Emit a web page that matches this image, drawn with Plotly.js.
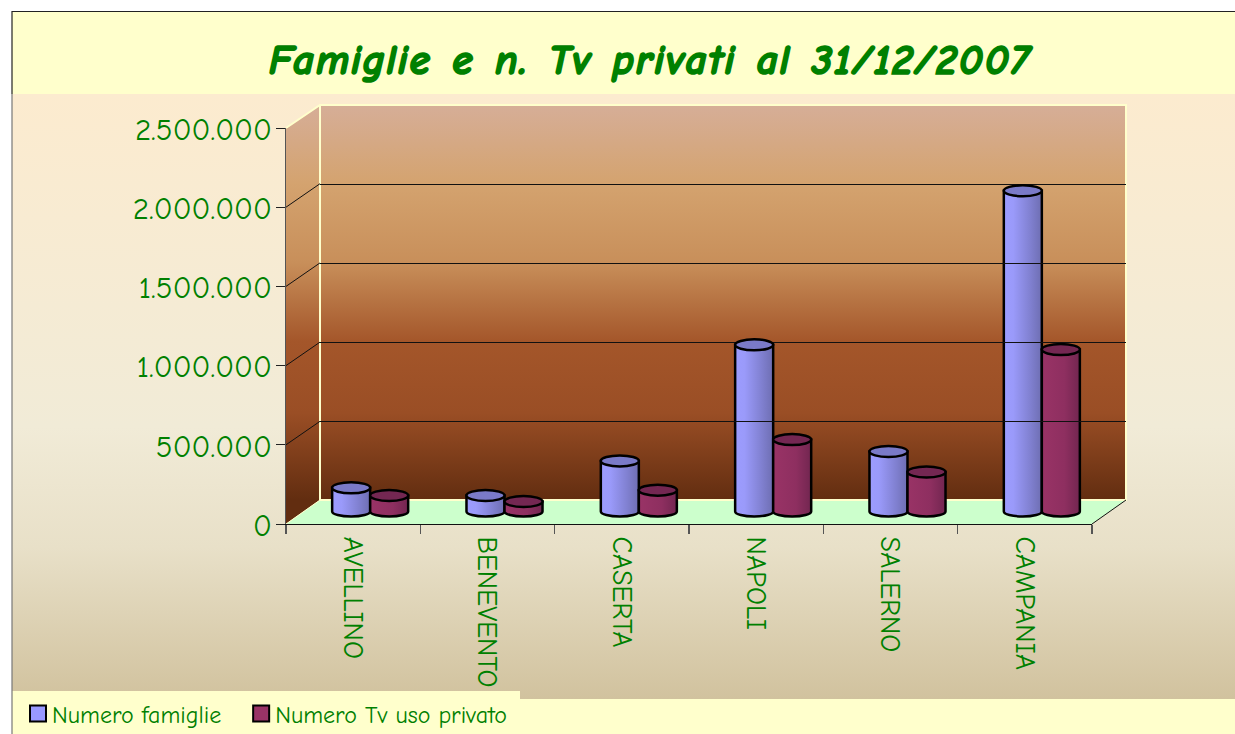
<!DOCTYPE html>
<html>
<head>
<meta charset="utf-8">
<script src="https://cdn.plot.ly/plotly-3.0.1.min.js"></script>
<style>
html,body{margin:0;padding:0;background:#fff;width:1235px;height:734px;overflow:hidden}
#bg{position:absolute;left:0;top:0}
#chart{position:absolute;left:0;top:0;width:1235px;height:734px}
</style>
</head>
<body>
<svg id="bg" width="1235" height="734" xmlns="http://www.w3.org/2000/svg">
  <defs>
    <linearGradient id="page" gradientUnits="userSpaceOnUse" x1="0" y1="94" x2="0" y2="699">
      <stop offset="0" stop-color="#fcebcf"/>
      <stop offset="0.55" stop-color="#f1ebd7"/>
      <stop offset="0.75" stop-color="#e8e0c8"/>
      <stop offset="1" stop-color="#d1c29e"/>
    </linearGradient>
    <linearGradient id="wall" gradientUnits="userSpaceOnUse" x1="0" y1="104" x2="0" y2="500">
      <stop offset="0" stop-color="#d6ae98"/>
      <stop offset="0.2" stop-color="#d4a36f"/>
      <stop offset="0.4" stop-color="#c88f5a"/>
      <stop offset="0.6" stop-color="#a4562a"/>
      <stop offset="0.78" stop-color="#9a4e25"/>
      <stop offset="1" stop-color="#622d10"/>
    </linearGradient>
  </defs>
  <rect x="12" y="94" width="1223" height="605" fill="url(#page)"/>
  <rect x="12" y="12" width="1223" height="82" fill="#ffffcc"/>
  <rect x="12" y="699" width="1223" height="35" fill="#ffffcc"/>
  <rect x="12" y="691" width="508" height="43" fill="#ffffcc"/>
  <path d="M12 11.5H1235" stroke="#222" stroke-width="1"/>
  <path d="M12 11V94" stroke="#222" stroke-width="1.2"/>
  <path d="M12 94V734" stroke="#777" stroke-width="1.2"/>
  <polygon points="286,128 320,105 320,500 286,524" fill="url(#wall)"/>
  <rect x="320" y="105" width="806" height="395" fill="url(#wall)"/>
  <polygon points="286,524 320,500 1126,500 1092,524" fill="#ccffcc"/>
  <path d="M286 128L320 105H1126V500H320V105" fill="none" stroke="#ffffcc" stroke-width="2"/>
</svg>
<div id="chart"></div>
<script>
var categories = ["AVELLINO", "BENEVENTO", "CASERTA", "NAPOLI", "SALERNO", "CAMPANIA"];
var famiglie = [150000, 101000, 320000, 1055000, 380000, 2030000];
var tvPrivati = [101000, 63000, 135000, 455000, 250000, 1025000];
var seriesNames = ["Numero famiglie", "Numero Tv uso privato"];
var tickValues = [0, 500000, 1000000, 1500000, 2000000, 2500000];

var W = 1235, H = 734;
function fx(a, b) { return [a / W, b / W]; }
function fy(top, bottom) { return [1 - bottom / H, 1 - top / H]; }
var GREEN = "#008000";
var FONT = '"Comic Sans MS","Comic Neue",Lato,"Noto Sans",sans-serif';
var VMAX = 2500000;
var BARW = 0.283;
var RY = 5.5 * VMAX / 396;

var traces = [
  {x: categories, y: famiglie, type: "scatter", mode: "none", xaxis: "x", yaxis: "y", showlegend: false, hoverinfo: "skip"},
  {x: categories, y: famiglie, type: "scatter", mode: "none", xaxis: "x3", yaxis: "y3", showlegend: false, hoverinfo: "skip"},
  {name: seriesNames[0], x: categories, y: famiglie, type: "bar", xaxis: "x2", yaxis: "y2", cliponaxis: false,
   marker: {color: "#9999ff", line: {color: "#000", width: 2.5}}},
  {name: seriesNames[1], x: categories, y: tvPrivati, type: "bar", xaxis: "x2", yaxis: "y2", cliponaxis: false,
   marker: {color: "#993366", line: {color: "#000", width: 2.5}}}
];

var shapes = [];
tickValues.forEach(function (v) {
  if (v === 0 || v === VMAX) return;
  var py = 524 - v * 396 / VMAX;
  shapes.push({type: "line", xref: "paper", yref: "paper", x0: 286 / W, x1: 320 / W,
    y0: 1 - py / H, y1: 1 - (py - 23.5) / H, line: {color: "#111", width: 1}, layer: "below"});
});
shapes.push({type: "line", xref: "paper", yref: "paper", x0: 1092 / W, x1: 1126 / W,
  y0: 1 - 524 / H, y1: 1 - 500 / H, line: {color: "#111", width: 1}, layer: "below"});
shapes.push({type: "line", xref: "paper", yref: "paper", x0: 286 / W, x1: 320 / W,
  y0: 1 - 524 / H, y1: 1 - 500 / H, line: {color: "#ffffcc", width: 1}, layer: "below"});
categories.forEach(function (c, i) {
  shapes.push({type: "circle", xref: "x2", yref: "y2", x0: i - BARW, x1: i,
    y0: famiglie[i] - RY, y1: famiglie[i] + RY, fillcolor: "#7a7ac8", line: {color: "#000", width: 2.5}});
  shapes.push({type: "circle", xref: "x2", yref: "y2", x0: i, x1: i + BARW,
    y0: tvPrivati[i] - RY, y1: tvPrivati[i] + RY, fillcolor: "#742752", line: {color: "#000", width: 2.5}});
});

var layout = {
  width: W, height: H,
  margin: {l: 0, r: 0, t: 0, b: 0, autoexpand: false},
  paper_bgcolor: "rgba(0,0,0,0)",
  plot_bgcolor: "rgba(0,0,0,0)",
  separators: ",.",
  title: {text: "Famiglie e n. Tv privati al 31/12/2007",
    x: 650 / W, xanchor: "center", y: 1 - 59 / H, yanchor: "middle", automargin: false,
    font: {family: FONT, size: 42, color: GREEN, weight: 700, style: "italic"}},
  barmode: "group",
  bargap: 0.434,
  bargroupgap: 0,
  showlegend: true,
  legend: {orientation: "h", x: 12 / W, xanchor: "left", y: 1 - 714 / H, yanchor: "middle",
    bgcolor: "rgba(0,0,0,0)", font: {family: FONT, size: 24, color: GREEN}, itemclick: false, itemdoubleclick: false},
  xaxis: {domain: fx(286, 1092), anchor: "y", type: "category", categoryorder: "array", categoryarray: categories,
    range: [-0.5, 5.5], tickson: "boundaries", ticks: "outside", ticklen: 9, tickcolor: "#555", tickwidth: 1.5,
    tickangle: 90, ticklabelstandoff: 6, showline: true, linecolor: "#111", linewidth: 1, showgrid: false, zeroline: false,
    tickfont: {family: FONT, size: 28, color: GREEN}},
  yaxis: {domain: fy(128, 524), anchor: "x", range: [0, VMAX], tickmode: "array", tickvals: tickValues,
    tickformat: ",d", ticks: "outside", ticklen: 9, tickcolor: "#222", tickwidth: 1,
    showline: true, linecolor: "#555", linewidth: 1, showgrid: false, zeroline: false,
    ticklabelshift: 1, ticklabelstandoff: -2,
    tickfont: {family: FONT, size: 31, color: GREEN}},
  xaxis2: {domain: fx(303, 1109), anchor: "y2", type: "category", categoryorder: "array", categoryarray: categories,
    range: [-0.5, 5.5], visible: false},
  yaxis2: {domain: fy(116.5, 524), anchor: "x2", range: [-12.5 * VMAX / 395, VMAX], visible: false},
  xaxis3: {domain: fx(320, 1126), anchor: "y3", type: "category", categoryorder: "array", categoryarray: categories,
    range: [-0.5, 5.5], visible: false},
  yaxis3: {domain: fy(105, 500), anchor: "x3", range: [0, VMAX], tickmode: "array", tickvals: tickValues,
    showgrid: true, gridcolor: "#111", gridwidth: 1, showticklabels: false, ticks: "", showline: false, zeroline: false},
  shapes: shapes
};

Plotly.newPlot("chart", traces, layout, {displayModeBar: false, staticPlot: true}).then(function (gd) {
  var svg = gd.querySelector(".main-svg");
  var NS = "http://www.w3.org/2000/svg";
  var defs = svg.querySelector("defs") || svg.insertBefore(document.createElementNS(NS, "defs"), svg.firstChild);
  function grad(id, stops) {
    var g = document.createElementNS(NS, "linearGradient");
    g.setAttribute("id", id);
    stops.forEach(function (s) {
      var st = document.createElementNS(NS, "stop");
      st.setAttribute("offset", s[0]);
      st.setAttribute("stop-color", s[1]);
      g.appendChild(st);
    });
    defs.appendChild(g);
  }
  grad("cylA", [[0, "#9c9cff"], [0.25, "#9a9afa"], [0.7, "#8080d0"], [1, "#6e6eb2"]]);
  grad("cylB", [[0, "#993366"], [0.6, "#8e2f60"], [1, "#722650"]]);
  var ids = ["cylA", "cylB"];
  gd.querySelectorAll(".barlayer .trace.bars").forEach(function (tr, t) {
    tr.querySelectorAll(".point path").forEach(function (p) {
      var n = (p.getAttribute("d") || "").match(/-?\d+(\.\d+)?/g);
      if (!n || n.length < 4) return;
      var x0 = +n[0], y0 = +n[1], y1 = +n[2], x1 = +n[3];
      var rx = Math.abs(x1 - x0) / 2, ry = 5;
      p.setAttribute("d", "M" + x0 + "," + y0 + "V" + y1 + "H" + x1 + "V" + y0 +
        "A" + rx + "," + ry + " 0 0 1 " + x0 + "," + y0 + "Z");
      p.style.fill = "url(#" + ids[t] + ")";
    });
  });
  var tt = gd.querySelector(".gtitle");
  if (tt) {
    tt.style.stroke = GREEN;
    tt.style.strokeWidth = "1.6px";
    tt.style.letterSpacing = "1.6px";
    tt.style.wordSpacing = "4px";
  }
  gd.querySelectorAll(".legend .legendpoints path").forEach(function (p) {
    p.setAttribute("d", "M8,8H-8V-8H8Z");
    p.style.strokeWidth = "2px";
    p.style.stroke = "#000";
  });
  gd.querySelectorAll(".legend .legendsymbols").forEach(function (g) {
    g.setAttribute("transform", "translate(6,0)");
  });
  var re = /translate\(\s*([-\d.]+)[ ,]+([-\d.]+)\s*\)/;
  var entries = gd.querySelectorAll(".legend .traces");
  if (entries.length > 1) {
    var m = re.exec(entries[1].getAttribute("transform") || "");
    if (m) entries[1].setAttribute("transform", "translate(" + (+m[1] + 9) + "," + m[2] + ")");
  }
  var box = gd.querySelector(".legend .scrollbox");
  if (box) box.removeAttribute("clip-path");
  var lg = gd.querySelector(".legend");
  if (lg) {
    lg.removeAttribute("clip-path");
    lg.style.clipPath = "none";
  }
});
</script>
</body>
</html>
